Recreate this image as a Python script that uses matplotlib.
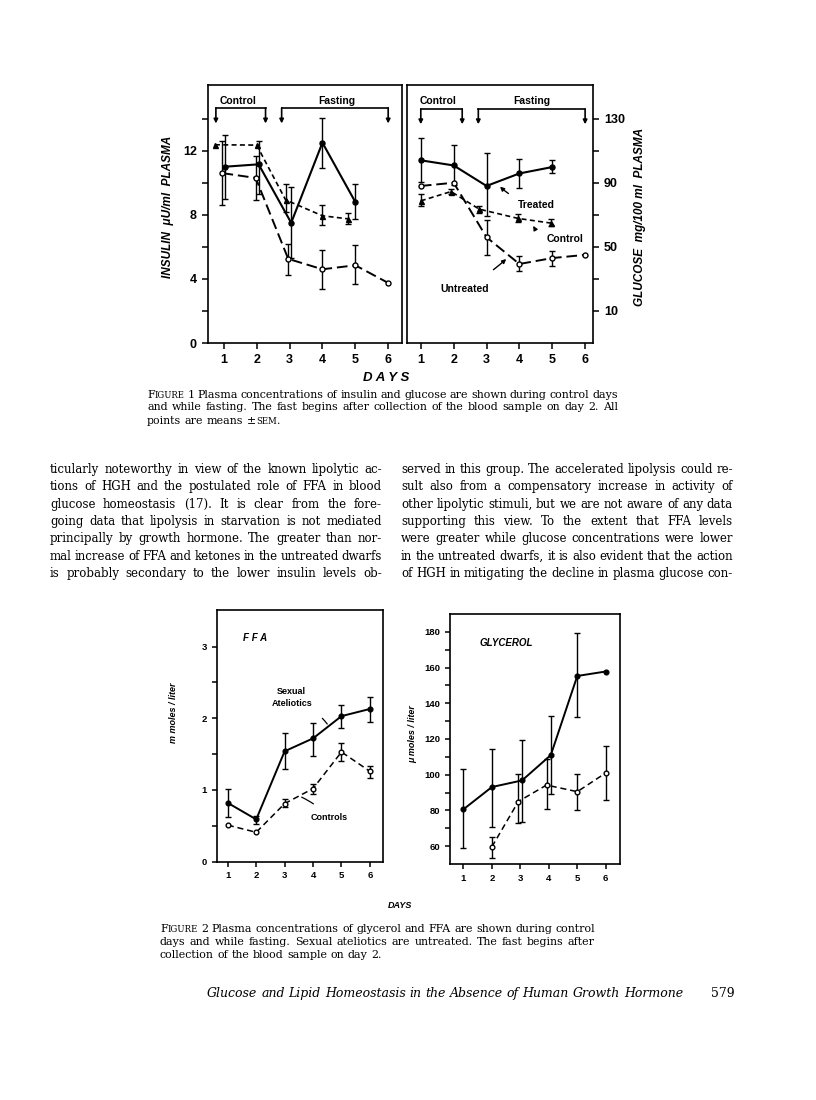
import matplotlib
matplotlib.use("Agg")
import matplotlib.pyplot as plt
import numpy as np

W, H = 816, 1100
fig = plt.figure(figsize=(W / 100, H / 100), dpi=100)
fig.patch.set_facecolor("white")

# ---------------- data ----------------
# Figure 1, insulin (uU/ml)
ins_treated_x = [1.03, 2.06, 3.05, 4.0, 5.0]
ins_treated = [11.0, 11.15, 7.5, 12.5, 8.8]
ins_treated_hi = [13.0, 12.6, 9.75, 14.05, 9.9]
ins_treated_lo = [9.0, 9.3, 5.3, 10.9, 7.75]

ins_untreated_x = [0.96, 1.97, 2.96, 4.0, 5.0, 6.0]
ins_untreated = [10.6, 10.3, 5.25, 4.6, 4.85, 3.75]
ins_untreated_hi = [12.6, 11.7, 6.2, 5.8, 6.1, np.nan]
ins_untreated_lo = [8.6, 8.9, 4.25, 3.4, 3.7, np.nan]

ins_control_x = [0.73, 2.0, 2.88, 4.0, 4.77]
ins_control = [12.37, 12.35, 8.93, 7.94, 7.75]
ins_control_hi = [np.nan, np.nan, 9.9, 8.6, 8.1]
ins_control_lo = [np.nan, np.nan, 8.2, 7.35, 7.4]

# Figure 1, glucose (mg/100 ml)
glu_treated_x = [1, 2, 3, 4, 5]
glu_treated = [104, 100.8, 88, 95.8, 99.8]
glu_treated_hi = [118, 113.4, 108.3, 105, 104]
glu_treated_lo = [90.4, 88.5, 69, 87, 96]

glu_untreated_x = [1, 2, 3, 4, 5, 6]
glu_untreated = [88, 90, 56, 39.3, 43, 45]
glu_untreated_hi = [np.nan, np.nan, 67, 44, 47.6, np.nan]
glu_untreated_lo = [np.nan, np.nan, 45, 35.2, 38.3, np.nan]

glu_control_x = [1, 1.92, 2.78, 3.97, 4.97]
glu_control = [78.7, 84.5, 73.5, 67.7, 64.8]
glu_control_hi = [83.2, 86, 75.2, 70.4, 67.3]
glu_control_lo = [75.2, 83, 71, 65.6, 63]

# Figure 2, FFA (mmoles/liter)
ffa_x = [1, 2, 3, 4, 5, 6]
ffa_atel = [0.82, 0.59, 1.54, 1.72, 2.03, 2.13]
ffa_atel_hi = [1.01, 0.64, 1.79, 1.93, 2.18, 2.30]
ffa_atel_lo = [0.63, 0.53, 1.29, 1.47, 1.87, 1.95]
ffa_ctrl = [0.51, 0.41, 0.81, 1.02, 1.53, 1.26]
ffa_ctrl_hi = [np.nan, np.nan, 0.87, 1.09, 1.65, 1.33]
ffa_ctrl_lo = [np.nan, np.nan, 0.76, 0.95, 1.41, 1.17]

# Figure 2, glycerol (umoles/liter)
gly_atel_x = [1, 2, 3.06, 4.07, 5, 6]
gly_atel = [80.6, 93.1, 96.8, 111, 155.3, 157.8]
gly_atel_hi = [103, 114.3, 119.4, 133, 179.6, np.nan]
gly_atel_lo = [58.7, 70.8, 73.6, 89.3, 132.3, np.nan]
gly_ctrl_x = [2, 2.93, 3.92, 5, 6]
gly_ctrl = [59.6, 85, 94.2, 90.5, 101]
gly_ctrl_hi = [65.2, 100.6, 108.6, 100.2, 115.9]
gly_ctrl_lo = [53.5, 73, 80.6, 80, 86]

day_ticks = [1, 2, 3, 4, 5, 6]

SANS = ["Liberation Sans", "DejaVu Sans"]
SERIF = ["DejaVu Serif", "Liberation Serif"]


def add_axes_px(x0, y0, x1, y1):
    return fig.add_axes([x0 / W, 1 - y1 / H, (x1 - x0) / W, (y1 - y0) / H])


def series(ax, x, y, lo, hi, ls, marker, mfc, lw=1.5, ms=3.6, dashes=None):
    y = np.asarray(y, float)
    lo = np.asarray(lo, float)
    hi = np.asarray(hi, float)
    kw = dict(color="k", lw=lw, marker=marker, ms=ms, mfc=mfc, mec="k",
              mew=1.0, zorder=4)
    if dashes is not None:
        kw["dashes"] = dashes
    else:
        kw["ls"] = ls
    ax.plot(x, y, **kw)
    m = ~np.isnan(lo)
    if m.any():
        yerr = np.vstack([(y - lo)[m], (hi - y)[m]])
        ax.errorbar(np.asarray(x, float)[m], y[m], yerr=yerr, fmt="none",
                    ecolor="k", elinewidth=1.0, capsize=2.0, capthick=1.0,
                    zorder=3)


def style_axes(ax, side="left", lab=8, length=4.5):
    for s in ax.spines.values():
        s.set_linewidth(1.2)
    ax.tick_params(which="both", direction="out", width=1.1, color="k",
                   labelsize=lab)
    ax.tick_params(which="major", length=length)
    ax.tick_params(which="minor", length=length)
    if side == "right":
        ax.yaxis.tick_right()
    for t in ax.get_xticklabels() + ax.get_yticklabels():
        t.set_fontweight("bold")
        t.set_fontfamily(SANS)


# ---------------- Figure 1 ----------------
axL = add_axes_px(208, 85, 402, 343)
axR = add_axes_px(407, 85, 593, 343)

series(axL, ins_treated_x, ins_treated, ins_treated_lo, ins_treated_hi,
       "-", "o", "k")
series(axL, ins_untreated_x, ins_untreated, ins_untreated_lo,
       ins_untreated_hi, None, "o", "white", lw=1.4, dashes=(5.5, 2.5))
series(axL, ins_control_x, ins_control, ins_control_lo, ins_control_hi,
       None, "^", "k", lw=1.2, dashes=(3, 2))
axL.set_xlim(0.52, 6.42)
axL.set_ylim(0, 16.1)
axL.set_xticks(day_ticks)
axL.set_yticks([0, 4, 8, 12])
axL.set_yticks([2, 6, 10, 14], minor=True)
style_axes(axL, lab=9)

series(axR, glu_treated_x, glu_treated, glu_treated_lo, glu_treated_hi,
       "-", "o", "k")
series(axR, glu_untreated_x, glu_untreated, glu_untreated_lo,
       glu_untreated_hi, None, "o", "white", lw=1.4, dashes=(5.5, 2.5))
series(axR, glu_control_x, glu_control, glu_control_lo, glu_control_hi,
       None, "^", "k", lw=1.2, dashes=(3, 2))
axR.set_xlim(0.58, 6.24)
axR.set_ylim(-10, 151)
axR.set_xticks(day_ticks)
axR.set_yticks([10, 50, 90, 130])
axR.set_yticks([30, 70, 110], minor=True)
style_axes(axR, side="right", lab=9)


def bracket(ax, x0, x1, yline, ytip, ytxt, label, xtxt):
    ax.plot([x0, x1], [yline, yline], color="k", lw=1.2, clip_on=False,
            zorder=5)
    for x in (x0, x1):
        ax.annotate("", xy=(x, ytip), xytext=(x, yline),
                    arrowprops=dict(arrowstyle="-|>", color="k", lw=1.2,
                                    mutation_scale=6, shrinkA=0, shrinkB=0))
    ax.text(xtxt, ytxt, label, ha="center", va="center", fontsize=7.5,
            fontweight="bold", family=SANS)


bracket(axL, 0.76, 2.27, 14.67, 13.7, 15.1, "Control", 1.42)
bracket(axL, 2.76, 6.0, 14.67, 13.7, 15.1, "Fasting", 4.44)
bracket(axR, 1.0, 2.26, 136, 126.5, 141, "Control", 1.53)
bracket(axR, 2.75, 6.0, 136, 126.5, 141, "Fasting", 4.37)

ann_kw = dict(fontsize=7.5, fontweight="bold", family=SANS, ha="center",
              va="center")
axR.annotate("Treated", xy=(3.41, 87.6), xytext=(4.53, 76),
             arrowprops=dict(arrowstyle="-|>", color="k", lw=1.0,
                             mutation_scale=6, shrinkA=6, shrinkB=0,
                             connectionstyle="arc3,rad=-0.15"), **ann_kw)
axR.annotate("Control", xy=(4.42, 63.1), xytext=(5.4, 55),
             arrowprops=dict(arrowstyle="-|>", color="k", lw=1.0,
                             mutation_scale=6, shrinkA=10, shrinkB=0,
                             connectionstyle="arc3,rad=-0.4"), **ann_kw)
axR.annotate("Untreated", xy=(3.6, 42.4), xytext=(2.35, 23.8),
             arrowprops=dict(arrowstyle="-|>", color="k", lw=1.0,
                             mutation_scale=6, shrinkA=14, shrinkB=0,
                             connectionstyle="arc3,rad=0.05"), **ann_kw)

fig.text(168 / W, 1 - 207 / H, "INSULIN  \u03bcU/ml  PLASMA", rotation=90,
         ha="center", va="center", fontsize=8.5, fontweight="bold",
         style="italic", family=SANS)
fig.text(640 / W, 1 - 217 / H, "GLUCOSE  mg/100 ml  PLASMA", rotation=90,
         ha="center", va="center", fontsize=8.5, fontweight="bold",
         style="italic", family=SANS)
fig.text(386 / W, 1 - 378 / H, "D A Y S", ha="center", va="center",
         fontsize=9.5, fontweight="bold", style="italic", family=SANS)

# ---------------- Figure 2 ----------------
axF = add_axes_px(216.7, 610, 382.7, 861.7)
axG = add_axes_px(450, 614, 620, 864)

series(axF, ffa_x, ffa_atel, ffa_atel_lo, ffa_atel_hi, "-", "o", "k",
       lw=1.4, ms=3.4)
series(axF, ffa_x, ffa_ctrl, ffa_ctrl_lo, ffa_ctrl_hi, None, "o", "white",
       lw=1.1, ms=3.4, dashes=(4, 2.5))
axF.set_xlim(0.61, 6.45)
axF.set_ylim(0, 3.51)
axF.set_xticks(day_ticks)
axF.set_yticks([0, 1, 2, 3])
axF.set_yticks([0.5, 1.5, 2.5], minor=True)
style_axes(axF, lab=6.8, length=3.5)

series(axG, gly_atel_x, gly_atel, gly_atel_lo, gly_atel_hi, "-", "o", "k",
       lw=1.4, ms=3.4)
series(axG, gly_ctrl_x, gly_ctrl, gly_ctrl_lo, gly_ctrl_hi, None, "o",
       "white", lw=1.1, ms=3.4, dashes=(4, 2.5))
axG.set_xlim(0.53, 6.5)
axG.set_ylim(50, 190)
axG.set_xticks(day_ticks)
axG.set_yticks([60, 80, 100, 120, 140, 160, 180])
axG.set_yticks([70, 90, 110, 130, 150, 170], minor=True)
style_axes(axG, lab=6.8, length=3.5)

small = dict(fontsize=6.5, fontweight="bold", family=SANS, ha="center",
             va="center")
axF.text(3.22, 2.38, "Sexual", **small)
axF.annotate("Ateliotics", xy=(4.5, 1.92), xytext=(3.28, 2.21),
             arrowprops=dict(arrowstyle="-", color="k", lw=0.9, shrinkA=9,
                             shrinkB=0, connectionstyle="arc3,rad=-0.2"),
             **small)
axF.annotate("Controls", xy=(3.6, 0.9), xytext=(4.58, 0.61),
             arrowprops=dict(arrowstyle="-", color="k", lw=0.9, shrinkA=8,
                             shrinkB=0, connectionstyle="arc3,rad=0.1"),
             **small)
axF.text(1.54, 3.12, "F F A", fontsize=7, fontweight="bold",
         style="italic", family=SANS, ha="left", va="center")
axG.text(1.55, 173.6, "GLYCEROL", fontsize=7, fontweight="bold",
         style="italic", family=SANS, ha="left", va="center")

fig.text(173 / W, 1 - 713 / H, "m moles / liter", rotation=90, ha="center",
         va="center", fontsize=6.5, fontweight="bold", style="italic",
         family=SANS)
fig.text(413 / W, 1 - 734 / H, "\u03bc moles / liter", rotation=90,
         ha="center", va="center", fontsize=6.5, fontweight="bold",
         style="italic", family=SANS)
fig.text(400 / W, 1 - 906 / H, "DAYS", ha="center", va="center",
         fontsize=6.5, fontweight="bold", style="italic", family=SANS)

# ---------------- page text ----------------
renderer = fig.canvas.get_renderer()


def pieces_of(token, size):
    out = []
    for p in token.split("|"):
        if p.startswith("~"):
            out.append((p[1:], size * 0.78))
        else:
            out.append((p, size))
    return out


def measure(txt, size, style):
    t = fig.text(0, 0, txt, fontsize=size, family=SERIF, style=style)
    w = t.get_window_extent(renderer).width
    t.remove()
    return w


def space_w(size, style):
    return measure("n n", size, style) - measure("nn", size, style)


def natural_width(line, size, style):
    toks = line.split()
    w = sum(measure(p, s, style) for tok in toks for p, s in pieces_of(tok, size))
    return w + space_w(size, style) * (len(toks) - 1)


def fit_size(lines, width, style="normal", base=10.0):
    nat = [natural_width(l, base, style) for l in lines]
    s_mean = base * width / np.mean(nat)
    s_max = base * width / max(nat) * 1.03
    return min(s_mean, s_max)


def text_line(line, x0, x1, yb, size, style="normal", justify=True):
    words = []
    for tok in line.split():
        objs, wsum = [], 0.0
        for txt, sz in pieces_of(tok, size):
            t = fig.text(0, 0, txt, fontsize=sz, family=SERIF, style=style,
                         ha="left", va="baseline")
            objs.append((t, wsum))
            wsum += t.get_window_extent(renderer).width
        words.append((objs, wsum))
    total = sum(w for _, w in words)
    if justify and len(words) > 1:
        gap = (x1 - x0 - total) / (len(words) - 1)
    else:
        gap = space_w(size, style)
    x = x0
    for objs, w in words:
        for t, off in objs:
            t.set_position(((x + off) / W, 1 - yb / H))
        x += w + gap


left_lines = [
    "ticularly noteworthy in view of the known lipolytic ac-",
    "tions of HGH and the postulated role of FFA in blood",
    "glucose homeostasis (17). It is clear from the fore-",
    "going data that lipolysis in starvation is not mediated",
    "principally by growth hormone. The greater than nor-",
    "mal increase of FFA and ketones in the untreated dwarfs",
    "is probably secondary to the lower insulin levels ob-",
]
right_lines = [
    "served in this group. The accelerated lipolysis could re-",
    "sult also from a compensatory increase in activity of",
    "other lipolytic stimuli, but we are not aware of any data",
    "supporting this view. To the extent that FFA levels",
    "were greater while glucose concentrations were lower",
    "in the untreated dwarfs, it is also evident that the action",
    "of HGH in mitigating the decline in plasma glucose con-",
]
body_size = fit_size(left_lines + right_lines, 332)
for i, (a, b) in enumerate(zip(left_lines, right_lines)):
    yb = 473 + i * 17.35
    text_line(a, 50, 382, yb, body_size)
    text_line(b, 401, 733, yb, body_size)

cap1 = [
    "F|~IGURE 1\u2002Plasma concentrations of insulin and glucose are shown during control days",
    "and while fasting. The fast begins after collection of the blood sample on day 2. All",
    "points are means \u00b1|~SEM|.",
]
cap1_size = fit_size(cap1[:2], 618 - 147)
for i, ln in enumerate(cap1):
    text_line(ln, 147, 618, 397.5 + i * 13.0, cap1_size, justify=(i < 2))

cap2 = [
    "F|~IGURE 2\u2002Plasma concentrations of glycerol and FFA are shown during control",
    "days and while fasting. Sexual ateliotics are untreated. The fast begins after",
    "collection of the blood sample on day 2.",
]
cap2_size = fit_size(cap2[:2], 595 - 160)
for i, ln in enumerate(cap2):
    text_line(ln, 160, 595, 932 + i * 13.0, cap2_size, justify=(i < 2))

footer = "Glucose and Lipid Homeostasis in the Absence of Human Growth Hormone"
foot_size = fit_size([footer], 683 - 207, style="italic")
text_line(footer, 207, 683, 997, foot_size, style="italic", justify=True)
text_line("579", 711, 737, 997, foot_size, justify=False)

fig.savefig("out.png", dpi=100, facecolor="white")
